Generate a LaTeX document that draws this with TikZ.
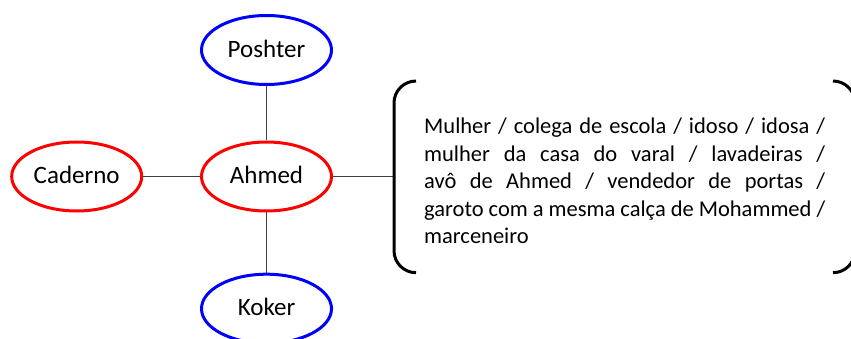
\documentclass[tikz,border=0pt]{standalone}
\usepackage{fontspec}
\setmainfont{Carlito}
\usetikzlibrary{shapes.geometric}
\tikzset{
  bubble/.style={ellipse, draw, line width=3pt, minimum width=130pt, minimum height=69pt,
    inner sep=0pt, font=\fontsize{25pt}{28pt}\selectfont, text height=16pt, text depth=1.5pt},
  redbubble/.style={bubble, draw={rgb,255:red,255;green,0;blue,0}},
  bluebubble/.style={bubble, draw={rgb,255:red,0;green,0;blue,255}},
  link/.style={draw=black!75, line width=1.2pt},
  bracketline/.style={draw=black, line width=3pt, rounded corners=22pt}
}
\begin{document}
\begin{tikzpicture}[x=1pt,y=1pt]
\useasboundingbox (0,0) rectangle (851,-339);
\clip (0,0) rectangle (851,-339);
\node[bluebubble] (poshter) at (266.5,-50) {Poshter};
\node[redbubble] (ahmed) at (266.5,-176.5) {Ahmed};
\node[redbubble] (caderno) at (76.7,-176.5) {Caderno};
\node[bluebubble] (koker) at (266.5,-308.7) {Koker};
\coordinate (brk) at (394,-176.5);
\draw[link] (poshter) -- (ahmed);
\draw[link] (caderno) -- (ahmed);
\draw[link] (ahmed) -- (koker);
\draw[link] (ahmed.east) -- (brk);
\draw[bracketline] (416,-81) -- (394,-81) -- (394,-272.7) -- (416,-272.7);
\draw[bracketline] (833,-81) -- (855,-81) -- (855,-272.7) -- (833,-272.7);
\node[anchor=base west, inner sep=0pt] (txt) at (424,-134)
  {\parbox[t]{401pt}{\fontsize{22.5pt}{27.5pt}\selectfont
  Mulher / colega de escola / idoso / idosa /\linebreak
  mulher da casa do varal / lavadeiras /\linebreak
  avô de Ahmed / vendedor de portas /\linebreak
  garoto com a mesma calça de Mohammed /\linebreak
  marceneiro}};
\end{tikzpicture}
\end{document}
